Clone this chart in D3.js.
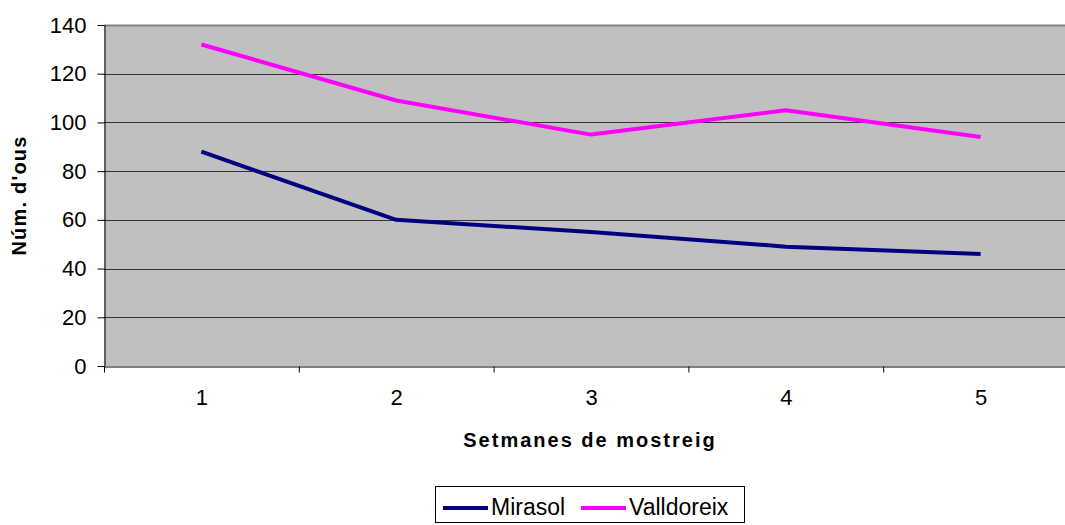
<!DOCTYPE html>
<html>
<head>
<meta charset="utf-8">
<script src="https://cdn.jsdelivr.net/npm/d3@7"></script>
<style>
  body { margin: 0; background: #fff; }
  svg { display: block; font-family: Arial, "Liberation Sans", sans-serif; }
</style>
</head>
<body>
<div class="chart"></div>
<script>
// weeks of sampling and egg counts per site
const weeks = [1, 2, 3, 4, 5];
const mirasol = [88, 60, 55, 49, 46];
const valldoreix = [132, 109, 95, 105, 94];
const yTicks = [0, 20, 40, 60, 80, 100, 120, 140];

const seriesNames = ["Mirasol", "Valldoreix"];
const seriesColors = ["#000080", "#ff00ff"];

const width = 1065;
const height = 525;
const plot = { left: 104, top: 25, bottom: 366, right: 1078 };

const svg = d3.select(".chart")
  .append("svg")
  .attr("width", width)
  .attr("height", height);

const x = d3.scaleLinear()
  .domain([0.5, 5.5])
  .range([plot.left, plot.right]);

const y = d3.scaleLinear()
  .domain([0, 140])
  .range([plot.bottom, plot.top]);

// plot background
svg.append("rect")
  .attr("x", plot.left)
  .attr("y", plot.top)
  .attr("width", plot.right - plot.left)
  .attr("height", plot.bottom - plot.top)
  .attr("fill", "#c0c0c0");

// gridlines
svg.append("g")
  .selectAll("line")
  .data(yTicks.filter(d => d > 0))
  .enter()
  .append("line")
  .attr("x1", plot.left)
  .attr("x2", plot.right)
  .attr("y1", d => Math.round(y(d)) + 0.5)
  .attr("y2", d => Math.round(y(d)) + 0.5)
  .attr("stroke", d => d === 140 ? "#808080" : "#333")
  .attr("stroke-width", d => d === 140 ? 2 : 1);

// y axis
const yAxis = svg.append("g")
  .attr("transform", `translate(${plot.left + 0.5},0)`)
  .call(d3.axisLeft(y).tickValues(yTicks).tickSize(7).tickSizeOuter(0).tickPadding(11));
yAxis.select(".domain").attr("stroke", "#000");
yAxis.selectAll(".tick line").attr("stroke", "#000");
yAxis.selectAll("text")
  .attr("font-size", 22)
  .attr("fill", "#000")
  .attr("font-family", "Arial, 'Liberation Sans', sans-serif");

// x axis: tick marks between categories
const xAxis = svg.append("g")
  .attr("transform", `translate(0,${plot.bottom + 0.5})`)
  .call(d3.axisBottom(x).tickValues([0.5, 1.5, 2.5, 3.5, 4.5, 5.5]).tickFormat("").tickSize(6).tickSizeOuter(0));
xAxis.select(".domain").attr("stroke", "#000");
xAxis.selectAll(".tick line").attr("stroke", "#000");

// x labels at category centres
const xLabels = svg.append("g")
  .attr("transform", `translate(0,${plot.bottom + 0.5})`)
  .call(d3.axisBottom(x).tickValues(weeks).tickFormat(d3.format("d")).tickSize(0).tickPadding(23));
xLabels.select(".domain").remove();
xLabels.selectAll("text")
  .attr("font-size", 22)
  .attr("fill", "#000")
  .attr("font-family", "Arial, 'Liberation Sans', sans-serif");

// lines
const line = d3.line()
  .x((d, i) => x(weeks[i]))
  .y(d => y(d));

[mirasol, valldoreix].forEach((vals, i) => {
  svg.append("path")
    .datum(vals)
    .attr("d", line)
    .attr("fill", "none")
    .attr("stroke", seriesColors[i])
    .attr("stroke-width", 4)
    .attr("stroke-linejoin", "round");
});

// axis titles
svg.append("text")
  .attr("x", 590)
  .attr("y", 447)
  .attr("text-anchor", "middle")
  .attr("font-size", 20)
  .attr("font-weight", "bold")
  .attr("letter-spacing", 2)
  .text("Setmanes de mostreig");

svg.append("text")
  .attr("transform", `translate(26,${(plot.top + plot.bottom) / 2}) rotate(-90)`)
  .attr("text-anchor", "middle")
  .attr("font-size", 20)
  .attr("font-weight", "bold")
  .attr("letter-spacing", 1.2)
  .text("Núm. d'ous");

// legend
const legend = svg.append("g");
legend.append("rect")
  .attr("x", 435.5)
  .attr("y", 486.5)
  .attr("width", 309)
  .attr("height", 36)
  .attr("fill", "#fff")
  .attr("stroke", "#000");

const legendX = [443, 581];
seriesNames.forEach((name, i) => {
  legend.append("line")
    .attr("x1", legendX[i])
    .attr("x2", legendX[i] + 45)
    .attr("y1", 508)
    .attr("y2", 508)
    .attr("stroke", seriesColors[i])
    .attr("stroke-width", 4);
  legend.append("text")
    .attr("x", legendX[i] + 48)
    .attr("y", 515)
    .attr("font-size", 23)
    .attr("fill", "#000")
    .text(name);
});
</script>
</body>
</html>
